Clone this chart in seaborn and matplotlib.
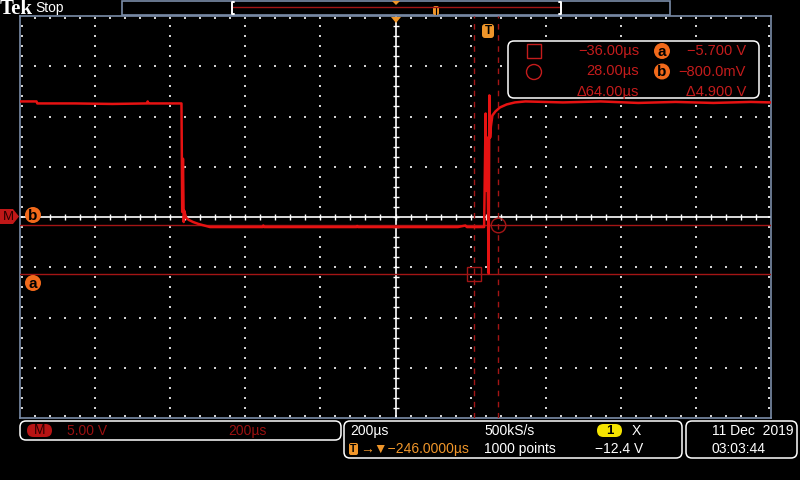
import numpy as np
import pandas as pd
import matplotlib
matplotlib.use("Agg")
import matplotlib.pyplot as plt
import seaborn as sns
from matplotlib.patches import FancyBboxPatch, Circle, Rectangle, Polygon
from matplotlib.collections import LineCollection

# math trace M, time relative to trigger (us) and volts
t_us = [-1246, -1202, -1200, -1100, -1000, -908, -906, -904, -900, -816,
        -814, -812, -810, -808, -806, -803, -796, -785, -770, -755, -740,
        -600, -598, -596, -350, -348, -346, -150, -80, -60, -56, -20, -10,
        -8, -6, -4, -2, 0, 2, 4, 6, 8, 12, 20, 32, 50, 72,
        100, 200, 300, 400, 500, 600, 700, 754]
volts = [11.5, 11.5, 11.3, 11.3, 11.25, 11.3, 11.5, 11.3, 11.3, 11.3,
         0.5, 5.8, -0.5, 0.6, 0.2, -0.1, -0.3, -0.5, -0.7, -0.85, -1.0,
         -1.0, -0.85, -1.0, -1.0, -0.9, -1.0, -1.0, -1.0, -0.85, -1.0, -1.0, -1.0,
         4.6, 10.3, 2.6, 7.9, 2.0, -5.6, 12.1, 7.9, 9.0, 10.1, 10.5, 10.9, 11.2, 11.4,
         11.5, 11.4, 11.5, 11.35, 11.45, 11.35, 11.45, 11.4]

# cursors
cursor_t = [-36.0, 28.0]
cursor_v = [-5.7, -0.8]

# screen settings
center_t = -246.0
time_div = 200.0
volt_div = 5.0

readout_rows = [("−36.00µs", "a", "−5.700 V"),
                ("28.00µs", "b", "−800.0mV"),
                ("Δ64.00µs", "", "Δ4.900 V")]

TRACE = '#e61212'
CURSOR = '#a31515'
READ = '#c41c1c'
ORANGE = '#f0962a'
BADGE = '#f26a1b'
BORDER = '#7a8ca8'
FS = 10

sns.set_theme(style="dark")
plt.rcParams['font.family'] = ['Liberation Sans', 'DejaVu Sans']
plt.rcParams['text.color'] = 'white'

fig = plt.figure(figsize=(8, 4.8), dpi=100, facecolor='black')
ax = fig.add_axes([20 / 800, 62 / 480, 751 / 800, 402 / 480])
ax.set_facecolor('black')
ax.set_xlim(center_t - 5 * time_div, center_t + 5 * time_div)
ax.set_ylim(-4 * volt_div, 4 * volt_div)
ax.set_xticks([])
ax.set_yticks([])
for s in ax.spines.values():
    s.set_color(BORDER)
    s.set_linewidth(1.2)

# graticule dots
tr = ax.transAxes
px_x = 1 / 751
px_y = 1 / 402
dx, dy = [], []
for k in range(1, 10):
    if k == 5:
        continue
    for j in range(1, 40):
        dx.append(k / 10)
        dy.append(j / 40)
for k in range(1, 8):
    if k == 4:
        continue
    for i in range(1, 50):
        dx.append(i / 50)
        dy.append(k / 8)
for i in range(1, 50):
    dx += [i / 50, i / 50]
    dy += [2 * px_y, 1 - 2 * px_y]
for j in range(1, 40):
    dx += [2 * px_x, 1 - 2 * px_x]
    dy += [j / 40, j / 40]
ax.scatter(dx, dy, transform=tr, s=1.3, marker='s', color='#d0d0d0', lw=0, zorder=1)

# center crosshair with ticks
ax.axvline(center_t, color='white', lw=1.2, zorder=2)
ax.axhline(0, color='white', lw=1.2, zorder=2)
segs = []
for i in range(1, 50):
    segs.append([(i / 50, 0.5 - 3 * px_y), (i / 50, 0.5 + 3 * px_y)])
for j in range(1, 40):
    segs.append([(0.5 - 3 * px_x, j / 40), (0.5 + 3 * px_x, j / 40)])
ax.add_collection(LineCollection(segs, colors='white', lw=1, transform=tr, zorder=2))

# cursors
for v in cursor_v:
    ax.axhline(v, color=CURSOR, lw=1, zorder=3)
for t in cursor_t:
    ax.axvline(t, color=CURSOR, lw=1, ls=(0, (4, 4)), zorder=3)
ax.plot(cursor_t[0], cursor_v[0], marker='s', ms=10.5, mfc='none', mec=CURSOR, mew=1, zorder=3)
ax.plot(cursor_t[1], cursor_v[1], marker='o', ms=10.5, mfc='none', mec=CURSOR, mew=1, zorder=3)

# waveform
df = pd.DataFrame({'t': t_us, 'v': volts})
sns.lineplot(data=df, x='t', y='v', ax=ax, color=TRACE, lw=1.8, sort=False,
             estimator=None, zorder=4)
ax.set_xlabel('')
ax.set_ylabel('')

# ---- screen chrome in pixel coordinates ----
ov = fig.add_axes([0, 0, 1, 1], zorder=5)
ov.set_xlim(0, 800)
ov.set_ylim(480, 0)
ov.axis('off')
ov.patch.set_alpha(0)


def rbox(x, y, w, h, ec='white', fc='black', r=6, lw=1.1):
    ov.add_patch(FancyBboxPatch((x, y), w, h, boxstyle=f"round,pad=0,rounding_size={r}",
                                ec=ec, fc=fc, lw=lw))


def badge(x, y, letter, fc=BADGE, r=8):
    ov.add_patch(Circle((x, y), r, fc=fc, ec='none'))
    ov.text(x, y + 0.5, letter, color='black', ha='center', va='center',
            fontsize=11, fontweight='bold')


# top bar
ov.text(0, 8.5, "Tek", family='Liberation Serif', fontweight='bold', fontsize=15,
        color='white', va='center')
ov.text(35, 8, "Stop", fontsize=10, color='white', va='center')
ov.add_patch(Rectangle((122, 1), 548, 14, fc='none', ec=BORDER, lw=1.2))
ov.plot([232, 561], [6.7, 6.7], color=CURSOR, lw=1)
for bx, d in [(232, 1), (561, -1)]:
    ov.plot([bx + 2 * d, bx, bx, bx + 2 * d], [2, 2, 14, 14], color='white', lw=1.4)
ov.add_patch(Polygon([[392, 1], [400, 1], [396, 5]], fc=ORANGE, ec='none'))
ov.add_patch(FancyBboxPatch((433, 6), 6, 9, boxstyle="round,pad=0,rounding_size=2",
                            fc=ORANGE, ec='none'))
ov.plot([436, 436], [8, 14], color='black', lw=0.8)

# trigger markers on graticule
ov.add_patch(Polygon([[391, 17], [401, 17], [396, 23]], fc=ORANGE, ec='none'))
ov.add_patch(FancyBboxPatch((482, 24), 12, 14, boxstyle="round,pad=0,rounding_size=3",
                            fc=ORANGE, ec='none'))
ov.text(488, 31.5, "T", color='black', ha='center', va='center', fontsize=8.5,
        fontweight='bold')

# left side markers
ov.add_patch(Polygon([[0, 209], [13, 209], [19, 216.5], [13, 224], [0, 224]],
                     fc='#c01818', ec='none'))
ov.text(8, 216.5, "M", color='#2a0000', ha='center', va='center', fontsize=9.5)
badge(33, 215, "b")
badge(33, 283, "a")

# cursor readout
rbox(508, 41, 251, 57)
ov.add_patch(Rectangle((527, 44), 14, 14, fc='none', ec=READ, lw=1))
ov.add_patch(Circle((534, 72), 7.5, fc='none', ec=READ, lw=1))
for row, (tt, lab, vv) in enumerate(readout_rows):
    y = 51 + row * 20.5
    ov.text(639, y, tt, color=READ, ha='right', va='center', fontsize=10.5)
    ov.text(746, y, vv, color=READ, ha='right', va='center', fontsize=10.5)
    if lab:
        badge(662, y, lab)

# bottom status boxes
rbox(20, 421, 321, 19)
ov.add_patch(FancyBboxPatch((27, 424), 25, 13, boxstyle="round,pad=0,rounding_size=6.5",
                            fc='#b81414', ec='none'))
ov.text(39.5, 430.5, "M", color='#2a0000', ha='center', va='center', fontsize=10)
ov.text(67, 431, "5.00 V", color='#9a1010', va='center', fontsize=FS)
ov.text(228, 431, "200µs", color='#9a1010', va='center', fontsize=FS)

rbox(344, 421, 338, 37)
ov.text(350, 431, "200µs", color='white', va='center', fontsize=FS)
ov.add_patch(FancyBboxPatch((349, 443), 9, 12, boxstyle="round,pad=0,rounding_size=2",
                            fc=ORANGE, ec='none'))
ov.text(353.5, 449, "T", color='black', ha='center', va='center', fontsize=7.5,
        fontweight='bold')
ov.text(360, 449, "→▼−246.0000µs", color=ORANGE, va='center', fontsize=FS)
ov.text(484, 431, "500kS/s", color='white', va='center', fontsize=FS)
ov.text(484, 449, "1000 points", color='white', va='center', fontsize=FS)
ov.add_patch(FancyBboxPatch((597, 424), 25, 13, boxstyle="round,pad=0,rounding_size=6.5",
                            fc='#f5e400', ec='none'))
ov.text(609.5, 430.5, "1", color='black', ha='center', va='center', fontsize=9.5,
        fontweight='bold')
ov.text(632, 431, "X", color='white', va='center', fontsize=FS)
ov.text(595, 449, "−12.4 V", color='white', va='center', fontsize=FS)

rbox(686, 421, 111, 37)
ov.text(712, 431, "11 Dec  2019", color='white', va='center', fontsize=FS)
ov.text(712, 449, "03:03:44", color='white', va='center', fontsize=FS)

fig.savefig("out.png", dpi=100, facecolor='black')
